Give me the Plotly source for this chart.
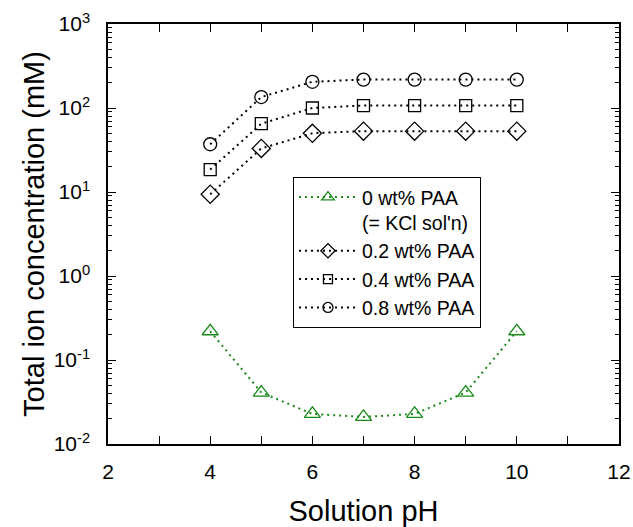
import plotly.graph_objects as go

ph = [4, 5, 6, 7, 8, 9, 10]
paa_0 = [0.22, 0.041, 0.0228, 0.021, 0.0228, 0.041, 0.22]
paa_02 = [9.4, 33, 50, 53, 53, 53, 53]
paa_04 = [18.5, 65, 100, 107, 107, 107, 107]
paa_08 = [37, 135, 205, 218, 218, 218, 218]

y_tickvals = [0.01, 0.1, 1, 10, 100, 1000]
y_ticktext = ["10<sup>-2</sup>", "10<sup>-1</sup>", "10<sup>0</sup>",
              "10<sup>1</sup>", "10<sup>2</sup>", "10<sup>3</sup>"]

series = [
    ("0 wt% PAA<br>(= KCl sol'n)", paa_0, "triangle-up-open", "#1a8a1a", 14),
    ("0.2 wt% PAA", paa_02, "diamond-open", "black", 14),
    ("0.4 wt% PAA", paa_04, "square-open", "black", 12),
    ("0.8 wt% PAA", paa_08, "circle-open", "black", 13),
]

fig = go.Figure()
for name, vals, sym, col, sz in series:
    fig.add_trace(go.Scatter(
        x=ph, y=vals, name=name, mode="lines+markers", showlegend=False,
        line=dict(color=col, width=2, dash="2px,4px"),
        marker=dict(symbol=sym, size=sz, color=col, line=dict(width=1.3, color=col)),
    ))
# legend entries (smaller symbols, as in the reference legend)
for name, vals, sym, col, sz in series:
    fig.add_trace(go.Scatter(
        x=[None], y=[None], name=name, mode="lines+markers",
        line=dict(color=col, width=2, dash="2px,4px"),
        marker=dict(symbol=sym, size=sz - 3, color=col, line=dict(width=1.3, color=col)),
    ))

font_family = "Liberation Sans, Arial, sans-serif"
fig.update_layout(
    width=633, height=527,
    margin=dict(l=108, r=14, t=24, b=83),
    plot_bgcolor="white", paper_bgcolor="white",
    font=dict(family=font_family, color="black", size=21),
    showlegend=True,
    legend=dict(
        x=0.362, y=0.636, xanchor="left", yanchor="top",
        bgcolor="white", bordercolor="black", borderwidth=1,
        font=dict(size=19.5), valign="top", tracegroupgap=0,
        itemwidth=58,
    ),
    xaxis=dict(
        range=[2, 12], dtick=2, tick0=2, automargin=False,
        ticks="inside", ticklen=8, tickwidth=1, tickcolor="black",
        showline=True, linecolor="black", linewidth=1.5, mirror="ticks",
        showgrid=False, zeroline=False,
        minor=dict(dtick=1, tick0=2, ticks="inside", ticklen=8, tickcolor="black"),
        title=dict(text="Solution pH", font=dict(size=29), standoff=27),
        tickfont=dict(size=21),
        ticklabelstandoff=8,
    ),
    yaxis=dict(
        type="log", range=[-2, 3], automargin=False,
        tickvals=y_tickvals, ticktext=y_ticktext,
        ticks="inside", ticklen=8, tickwidth=1, tickcolor="black",
        showline=True, linecolor="black", linewidth=1.5, mirror="ticks",
        showgrid=False, zeroline=False,
        minor=dict(dtick="D1", ticks="inside", ticklen=4, tickcolor="black"),
        title=dict(text="Total ion concentration (mM)", font=dict(size=29), standoff=0),
        tickfont=dict(size=21),
        ticklabelstandoff=12,
    ),
)

fig.write_html("out.html")
